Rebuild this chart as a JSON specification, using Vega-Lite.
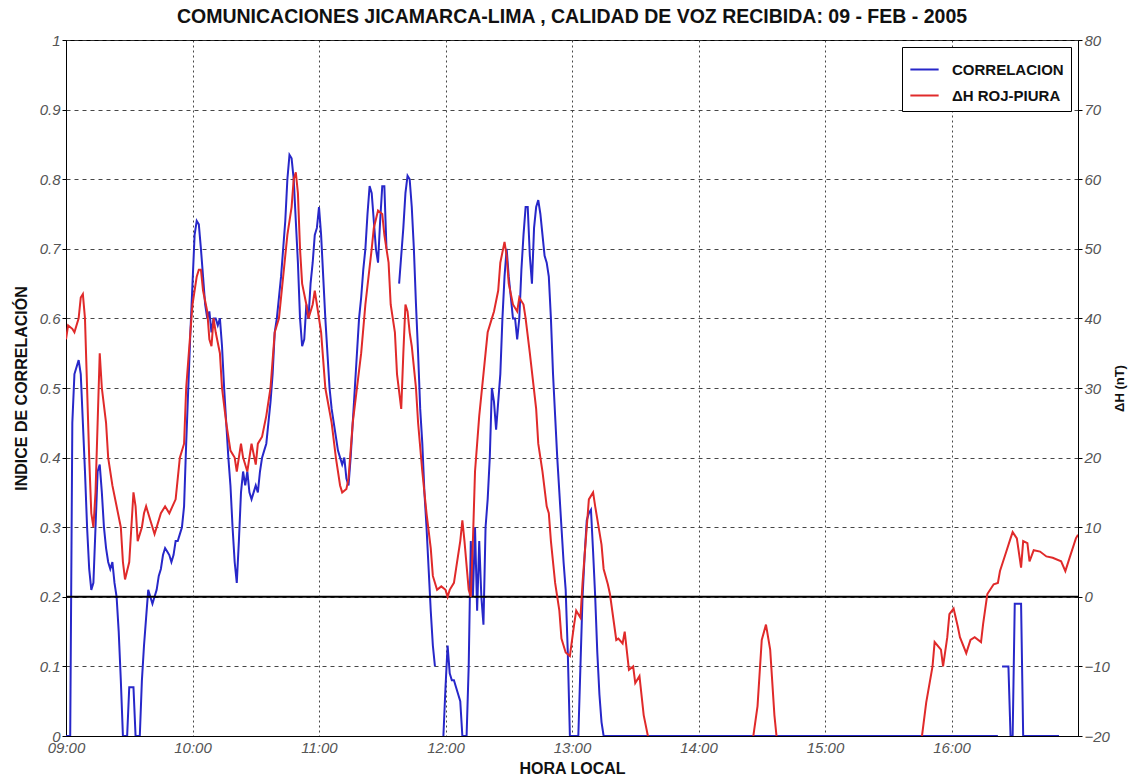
{
  "$schema": "https://vega.github.io/schema/vega-lite/v6.json",
  "width": 1012,
  "height": 696,
  "autosize": {"type": "none"},
  "padding": {"left": 66, "top": 40, "right": 53, "bottom": 46},
  "background": "white",
  "title": {
    "text": "COMUNICACIONES JICAMARCA-LIMA , CALIDAD DE VOZ RECIBIDA: 09 - FEB - 2005",
    "fontSize": 19.5,
    "fontWeight": "bold",
    "font": "Liberation Sans",
    "color": "#111",
    "anchor": "middle",
    "offset": 6
  },
  "layer": [
    {
      "layer": [
        {
          "data": {
            "format": {"parse": {"hora": "date:'%H:%M'"}},
            "values": [
              {"hora":"09:00","corr":0},{"hora":"09:02","corr":0},{"hora":"09:03","corr":0.45},{"hora":"09:04","corr":0.52},{"hora":"09:06","corr":0.54},{"hora":"09:07","corr":0.52},{"hora":"09:08","corr":0.45},{"hora":"09:09","corr":0.38},{"hora":"09:10","corr":0.3},{"hora":"09:11","corr":0.24},{"hora":"09:12","corr":0.21},{"hora":"09:13","corr":0.22},{"hora":"09:14","corr":0.3},{"hora":"09:15","corr":0.38},{"hora":"09:16","corr":0.39},{"hora":"09:17","corr":0.35},{"hora":"09:18","corr":0.3},{"hora":"09:19","corr":0.27},{"hora":"09:20","corr":0.25},{"hora":"09:21","corr":0.24},{"hora":"09:22","corr":0.25},{"hora":"09:23","corr":0.22},{"hora":"09:24","corr":0.2},{"hora":"09:25","corr":0.15},{"hora":"09:26","corr":0.08},{"hora":"09:27","corr":0},{"hora":"09:29","corr":0},{"hora":"09:30","corr":0.07},{"hora":"09:32","corr":0.07},{"hora":"09:33","corr":0},{"hora":"09:35","corr":0},{"hora":"09:36","corr":0.08},{"hora":"09:37","corr":0.13},{"hora":"09:38","corr":0.17},{"hora":"09:39","corr":0.21},{"hora":"09:40","corr":0.2},{"hora":"09:41","corr":0.19},{"hora":"09:42","corr":0.2},{"hora":"09:43","corr":0.21},{"hora":"09:44","corr":0.23},{"hora":"09:45","corr":0.24},{"hora":"09:46","corr":0.26},{"hora":"09:47","corr":0.27},{"hora":"09:48","corr":0.265},{"hora":"09:49","corr":0.26},{"hora":"09:50","corr":0.25},{"hora":"09:51","corr":0.26},{"hora":"09:52","corr":0.28},{"hora":"09:53","corr":0.28},{"hora":"09:54","corr":0.29},{"hora":"09:55","corr":0.3},{"hora":"09:56","corr":0.33},{"hora":"09:57","corr":0.42},{"hora":"09:58","corr":0.5},{"hora":"09:59","corr":0.58},
              {"hora":"10:00","corr":0.65},{"hora":"10:01","corr":0.72},{"hora":"10:02","corr":0.74},{"hora":"10:03","corr":0.735},{"hora":"10:04","corr":0.7},{"hora":"10:05","corr":0.66},{"hora":"10:06","corr":0.62},{"hora":"10:07","corr":0.6},{"hora":"10:08","corr":0.61},{"hora":"10:09","corr":0.58},{"hora":"10:10","corr":0.6},{"hora":"10:11","corr":0.6},{"hora":"10:12","corr":0.59},{"hora":"10:13","corr":0.6},{"hora":"10:14","corr":0.56},{"hora":"10:15","corr":0.5},{"hora":"10:16","corr":0.45},{"hora":"10:17","corr":0.4},{"hora":"10:18","corr":0.36},{"hora":"10:19","corr":0.3},{"hora":"10:20","corr":0.25},{"hora":"10:21","corr":0.22},{"hora":"10:22","corr":0.28},{"hora":"10:23","corr":0.35},{"hora":"10:24","corr":0.38},{"hora":"10:25","corr":0.36},{"hora":"10:26","corr":0.38},{"hora":"10:27","corr":0.35},{"hora":"10:28","corr":0.34},{"hora":"10:29","corr":0.35},{"hora":"10:30","corr":0.36},{"hora":"10:31","corr":0.35},{"hora":"10:32","corr":0.38},{"hora":"10:33","corr":0.4},{"hora":"10:34","corr":0.41},{"hora":"10:35","corr":0.42},{"hora":"10:36","corr":0.45},{"hora":"10:37","corr":0.48},{"hora":"10:38","corr":0.52},{"hora":"10:39","corr":0.58},{"hora":"10:40","corr":0.6},{"hora":"10:41","corr":0.63},{"hora":"10:42","corr":0.66},{"hora":"10:43","corr":0.7},{"hora":"10:44","corr":0.74},{"hora":"10:45","corr":0.8},{"hora":"10:46","corr":0.835},{"hora":"10:47","corr":0.83},{"hora":"10:48","corr":0.8},{"hora":"10:49","corr":0.74},{"hora":"10:50","corr":0.68},{"hora":"10:51","corr":0.6},{"hora":"10:52","corr":0.56},{"hora":"10:53","corr":0.57},{"hora":"10:54","corr":0.62},{"hora":"10:55","corr":0.6},{"hora":"10:56","corr":0.65},{"hora":"10:57","corr":0.68},{"hora":"10:58","corr":0.72},{"hora":"10:59","corr":0.73},
              {"hora":"11:00","corr":0.76},{"hora":"11:01","corr":0.72},{"hora":"11:02","corr":0.66},{"hora":"11:03","corr":0.6},{"hora":"11:04","corr":0.55},{"hora":"11:05","corr":0.5},{"hora":"11:06","corr":0.47},{"hora":"11:07","corr":0.45},{"hora":"11:08","corr":0.43},{"hora":"11:09","corr":0.41},{"hora":"11:10","corr":0.4},{"hora":"11:11","corr":0.39},{"hora":"11:12","corr":0.4},{"hora":"11:13","corr":0.37},{"hora":"11:14","corr":0.36},{"hora":"11:15","corr":0.4},{"hora":"11:16","corr":0.45},{"hora":"11:17","corr":0.5},{"hora":"11:18","corr":0.55},{"hora":"11:19","corr":0.6},{"hora":"11:20","corr":0.63},{"hora":"11:21","corr":0.67},{"hora":"11:22","corr":0.7},{"hora":"11:23","corr":0.75},{"hora":"11:24","corr":0.79},{"hora":"11:25","corr":0.78},{"hora":"11:26","corr":0.74},{"hora":"11:27","corr":0.7},{"hora":"11:28","corr":0.68},{"hora":"11:29","corr":0.74},{"hora":"11:30","corr":0.79},{"hora":"11:31","corr":0.79},{"hora":"11:32","corr":0.7},{"hora":"11:33","corr":null},{"hora":"11:38","corr":0.65},{"hora":"11:39","corr":0.69},{"hora":"11:40","corr":0.73},{"hora":"11:41","corr":0.78},{"hora":"11:42","corr":0.805},{"hora":"11:43","corr":0.8},{"hora":"11:44","corr":0.76},{"hora":"11:45","corr":0.7},{"hora":"11:46","corr":0.62},{"hora":"11:47","corr":0.55},{"hora":"11:48","corr":0.47},{"hora":"11:49","corr":0.42},{"hora":"11:50","corr":0.35},{"hora":"11:51","corr":0.3},{"hora":"11:52","corr":0.24},{"hora":"11:53","corr":0.18},{"hora":"11:54","corr":0.13},{"hora":"11:55","corr":0.1},{"hora":"11:56","corr":null},{"hora":"11:59","corr":0},
              {"hora":"12:00","corr":0.07},{"hora":"12:01","corr":0.13},{"hora":"12:02","corr":0.09},{"hora":"12:03","corr":0.08},{"hora":"12:04","corr":0.08},{"hora":"12:05","corr":0.07},{"hora":"12:06","corr":0.06},{"hora":"12:07","corr":0.05},{"hora":"12:08","corr":0},{"hora":"12:10","corr":0},{"hora":"12:11","corr":0.1},{"hora":"12:12","corr":0.28},{"hora":"12:13","corr":0.2},{"hora":"12:14","corr":0.3},{"hora":"12:15","corr":0.18},{"hora":"12:16","corr":0.28},{"hora":"12:17","corr":0.2},{"hora":"12:18","corr":0.16},{"hora":"12:19","corr":0.3},{"hora":"12:20","corr":0.34},{"hora":"12:21","corr":0.4},{"hora":"12:22","corr":0.5},{"hora":"12:23","corr":0.48},{"hora":"12:24","corr":0.44},{"hora":"12:25","corr":0.48},{"hora":"12:26","corr":0.52},{"hora":"12:27","corr":0.6},{"hora":"12:28","corr":0.66},{"hora":"12:29","corr":0.7},{"hora":"12:30","corr":0.66},{"hora":"12:31","corr":0.63},{"hora":"12:32","corr":0.6},{"hora":"12:33","corr":0.6},{"hora":"12:34","corr":0.57},{"hora":"12:35","corr":0.6},{"hora":"12:36","corr":0.67},{"hora":"12:37","corr":0.72},{"hora":"12:38","corr":0.76},{"hora":"12:39","corr":0.76},{"hora":"12:40","corr":0.69},{"hora":"12:41","corr":0.65},{"hora":"12:42","corr":0.73},{"hora":"12:43","corr":0.76},{"hora":"12:44","corr":0.77},{"hora":"12:45","corr":0.75},{"hora":"12:46","corr":0.72},{"hora":"12:47","corr":0.69},{"hora":"12:48","corr":0.68},{"hora":"12:49","corr":0.66},{"hora":"12:50","corr":0.6},{"hora":"12:51","corr":0.52},{"hora":"12:52","corr":0.46},{"hora":"12:53","corr":0.4},{"hora":"12:54","corr":0.35},{"hora":"12:55","corr":0.3},{"hora":"12:56","corr":0.25},{"hora":"12:57","corr":0.21},{"hora":"12:58","corr":0.12},{"hora":"12:59","corr":0},
              {"hora":"13:03","corr":0},{"hora":"13:04","corr":0.1},{"hora":"13:05","corr":0.2},{"hora":"13:06","corr":0.26},{"hora":"13:07","corr":0.31},{"hora":"13:08","corr":0.32},{"hora":"13:09","corr":0.325},{"hora":"13:10","corr":0.265},{"hora":"13:11","corr":0.2},{"hora":"13:12","corr":0.12},{"hora":"13:13","corr":0.06},{"hora":"13:14","corr":0.02},{"hora":"13:15","corr":0},
              {"hora":"14:00","corr":0},{"hora":"15:00","corr":0},{"hora":"16:00","corr":0},{"hora":"16:22","corr":0},{"hora":"16:23","corr":null},{"hora":"16:24","corr":0.1},{"hora":"16:27","corr":0.1},{"hora":"16:28","corr":0},{"hora":"16:29","corr":0},{"hora":"16:30","corr":0.19},{"hora":"16:33","corr":0.19},{"hora":"16:34","corr":0},{"hora":"16:51","corr":0}
            ]
          },
          "mark": {"type": "line", "strokeWidth": 2, "invalid": "break-paths-show-domains", "clip": true},
          "encoding": {
            "x": {
              "field": "hora",
              "type": "temporal",
              "scale": {"domain": [{"year": 1900, "month": 1, "date": 1, "hours": 9}, {"year": 1900, "month": 1, "date": 1, "hours": 17}]},
              "axis": {
                "title": "HORA LOCAL",
                "format": "%H:%M",
                "values": [
                  {"year": 1900, "month": 1, "date": 1, "hours": 9},
                  {"year": 1900, "month": 1, "date": 1, "hours": 10},
                  {"year": 1900, "month": 1, "date": 1, "hours": 11},
                  {"year": 1900, "month": 1, "date": 1, "hours": 12},
                  {"year": 1900, "month": 1, "date": 1, "hours": 13},
                  {"year": 1900, "month": 1, "date": 1, "hours": 14},
                  {"year": 1900, "month": 1, "date": 1, "hours": 15},
                  {"year": 1900, "month": 1, "date": 1, "hours": 16}
                ],
                "grid": true,
                "gridDash": [2, 3],
                "gridColor": "#333",
                "gridOpacity": 0.9,
                "ticks": false,
                "labelPadding": 4,
                "labelFlush": false,
                "labelOverlap": false,
                "titlePadding": 5
              }
            },
            "y": {
              "field": "corr",
              "type": "quantitative",
              "scale": {"domain": [0, 1], "nice": false, "zero": false},
              "axis": {
                "title": "INDICE DE CORRELACIÓN",
                "orient": "left",
                "values": [0, 0.1, 0.2, 0.3, 0.4, 0.5, 0.6, 0.7, 0.8, 0.9, 1],
                "format": "~g",
                "grid": true,
                "gridDash": [4, 4],
                "gridColor": "#333",
                "gridOpacity": 0.9,
                "tickSize": 4,
                "labelPadding": 2,
                "titlePadding": 10
              }
            },
            "color": {
              "datum": "CORRELACION",
              "type": "nominal",
              "scale": {"domain": ["CORRELACION", "ΔH ROJ-PIURA"], "range": ["#2727c9", "#e02a2a"]},
              "legend": {
                "title": null,
                "orient": "top-right",
                "offset": 7,
                "fillColor": "white",
                "strokeColor": "black",
                "padding": 7,
                "labelFont": "Liberation Sans",
                "labelFontWeight": "bold",
                "labelFontSize": 15,
                "labelColor": "#111",
                "labelOffset": 12,
                "rowPadding": 2,
                "symbolType": "stroke",
                "symbolSize": 800,
                "symbolStrokeWidth": 2
              }
            }
          }
        },
        {
          "data": {"values": [{"ref": 0.2}]},
          "mark": {"type": "rule", "color": "black", "strokeWidth": 2},
          "encoding": {
            "y": {"field": "ref", "type": "quantitative"}
          }
        }
      ]
    },
    {
      "data": {
        "format": {"parse": {"hora": "date:'%H:%M'"}},
        "values": [
          {"hora":"09:00","dh":37},{"hora":"09:01","dh":39},{"hora":"09:03","dh":38.5},{"hora":"09:04","dh":38},{"hora":"09:06","dh":40},{"hora":"09:07","dh":43},{"hora":"09:08","dh":43.5},{"hora":"09:09","dh":40},{"hora":"09:10","dh":30},{"hora":"09:11","dh":20},{"hora":"09:12","dh":12},{"hora":"09:13","dh":10},{"hora":"09:14","dh":15},{"hora":"09:15","dh":25},{"hora":"09:16","dh":35},{"hora":"09:17","dh":30},{"hora":"09:19","dh":25},{"hora":"09:20","dh":20},{"hora":"09:22","dh":16},{"hora":"09:24","dh":13},{"hora":"09:26","dh":10},{"hora":"09:27","dh":5},{"hora":"09:28","dh":2.5},{"hora":"09:30","dh":5},{"hora":"09:31","dh":10},{"hora":"09:32","dh":15},{"hora":"09:33","dh":13},{"hora":"09:34","dh":8},{"hora":"09:36","dh":10},{"hora":"09:37","dh":12},{"hora":"09:38","dh":13},{"hora":"09:40","dh":11},{"hora":"09:42","dh":9},{"hora":"09:43","dh":10},{"hora":"09:45","dh":12},{"hora":"09:47","dh":13},{"hora":"09:49","dh":12},{"hora":"09:52","dh":14},{"hora":"09:54","dh":20},{"hora":"09:56","dh":22},{"hora":"09:57","dh":30},{"hora":"09:59","dh":38},
          {"hora":"10:00","dh":42},{"hora":"10:02","dh":46},{"hora":"10:03","dh":47},{"hora":"10:04","dh":47},{"hora":"10:05","dh":44},{"hora":"10:07","dh":41},{"hora":"10:08","dh":37},{"hora":"10:09","dh":36},{"hora":"10:10","dh":40},{"hora":"10:11","dh":38},{"hora":"10:13","dh":35},{"hora":"10:14","dh":30},{"hora":"10:16","dh":25},{"hora":"10:18","dh":21},{"hora":"10:20","dh":20},{"hora":"10:21","dh":18},{"hora":"10:23","dh":22},{"hora":"10:24","dh":20},{"hora":"10:26","dh":18},{"hora":"10:28","dh":22},{"hora":"10:30","dh":19},{"hora":"10:31","dh":22},{"hora":"10:33","dh":23},{"hora":"10:35","dh":26},{"hora":"10:37","dh":30},{"hora":"10:39","dh":38},{"hora":"10:41","dh":40},{"hora":"10:43","dh":46},{"hora":"10:45","dh":52},{"hora":"10:47","dh":56},{"hora":"10:48","dh":60},{"hora":"10:49","dh":61},{"hora":"10:50","dh":58},{"hora":"10:51","dh":50},{"hora":"10:52","dh":45},{"hora":"10:54","dh":42},{"hora":"10:55","dh":40},{"hora":"10:57","dh":42},{"hora":"10:58","dh":44},
          {"hora":"11:00","dh":40},{"hora":"11:01","dh":38},{"hora":"11:03","dh":30},{"hora":"11:06","dh":25},{"hora":"11:08","dh":20},{"hora":"11:10","dh":16},{"hora":"11:11","dh":15},{"hora":"11:13","dh":15.5},{"hora":"11:14","dh":17},{"hora":"11:16","dh":25},{"hora":"11:18","dh":30},{"hora":"11:20","dh":35},{"hora":"11:22","dh":42},{"hora":"11:25","dh":50},{"hora":"11:26","dh":53},{"hora":"11:28","dh":55.5},{"hora":"11:30","dh":55},{"hora":"11:31","dh":52},{"hora":"11:33","dh":48},{"hora":"11:34","dh":42},{"hora":"11:36","dh":38},{"hora":"11:37","dh":32},{"hora":"11:39","dh":27},{"hora":"11:40","dh":35},{"hora":"11:41","dh":42},{"hora":"11:42","dh":41},{"hora":"11:43","dh":38},{"hora":"11:44","dh":36},{"hora":"11:46","dh":30},{"hora":"11:47","dh":25},{"hora":"11:49","dh":18},{"hora":"11:51","dh":12},{"hora":"11:53","dh":7},{"hora":"11:54","dh":3},{"hora":"11:56","dh":1},{"hora":"11:58","dh":1.5},
          {"hora":"12:00","dh":1},{"hora":"12:01","dh":0},{"hora":"12:02","dh":1},{"hora":"12:04","dh":2},{"hora":"12:05","dh":4},{"hora":"12:07","dh":8},{"hora":"12:08","dh":11},{"hora":"12:09","dh":8},{"hora":"12:11","dh":1},{"hora":"12:12","dh":0},{"hora":"12:13","dh":8},{"hora":"12:14","dh":18},{"hora":"12:16","dh":26},{"hora":"12:18","dh":32},{"hora":"12:19","dh":35},{"hora":"12:20","dh":38},{"hora":"12:22","dh":40},{"hora":"12:23","dh":41},{"hora":"12:25","dh":44},{"hora":"12:26","dh":48},{"hora":"12:28","dh":51},{"hora":"12:29","dh":49},{"hora":"12:30","dh":45},{"hora":"12:32","dh":42},{"hora":"12:34","dh":41},{"hora":"12:35","dh":43},{"hora":"12:37","dh":42},{"hora":"12:38","dh":40},{"hora":"12:40","dh":35},{"hora":"12:43","dh":27},{"hora":"12:44","dh":22},{"hora":"12:46","dh":18},{"hora":"12:48","dh":13},{"hora":"12:49","dh":12},{"hora":"12:50","dh":8},{"hora":"12:52","dh":2},{"hora":"12:54","dh":-2},{"hora":"12:55","dh":-6},{"hora":"12:57","dh":-8},{"hora":"12:59","dh":-8.5},
          {"hora":"13:01","dh":-4},{"hora":"13:02","dh":-2},{"hora":"13:04","dh":-3},{"hora":"13:05","dh":2},{"hora":"13:07","dh":10},{"hora":"13:08","dh":14},{"hora":"13:10","dh":15},{"hora":"13:11","dh":13},{"hora":"13:14","dh":7.5},{"hora":"13:15","dh":4},{"hora":"13:17","dh":1.8},{"hora":"13:18","dh":0.4},{"hora":"13:21","dh":-6.2},{"hora":"13:22","dh":-6},{"hora":"13:24","dh":-6.7},{"hora":"13:25","dh":-5},{"hora":"13:27","dh":-10.5},{"hora":"13:29","dh":-10},{"hora":"13:30","dh":-12.4},{"hora":"13:32","dh":-11.4},{"hora":"13:34","dh":-17},{"hora":"13:36","dh":-20},{"hora":"13:38","dh":-24},
          {"hora":"14:25","dh":-24},{"hora":"14:26","dh":-20},{"hora":"14:28","dh":-15.7},{"hora":"14:30","dh":-6.2},{"hora":"14:32","dh":-4},{"hora":"14:34","dh":-7.6},{"hora":"14:36","dh":-17},{"hora":"14:37","dh":-20},{"hora":"14:38","dh":-24},
          {"hora":"15:44","dh":-24},{"hora":"15:46","dh":-20},{"hora":"15:48","dh":-15.2},{"hora":"15:51","dh":-10},{"hora":"15:52","dh":-6.5},{"hora":"15:55","dh":-7.6},{"hora":"15:56","dh":-10},{"hora":"15:58","dh":-5.8},{"hora":"15:59","dh":-2.5},
          {"hora":"16:01","dh":-1.7},{"hora":"16:03","dh":-4.3},{"hora":"16:04","dh":-5.8},{"hora":"16:07","dh":-8.1},{"hora":"16:09","dh":-6.2},{"hora":"16:11","dh":-5.8},{"hora":"16:14","dh":-6.5},{"hora":"16:15","dh":-3.9},{"hora":"16:17","dh":0.4},{"hora":"16:20","dh":1.8},{"hora":"16:22","dh":2},{"hora":"16:23","dh":3.7},{"hora":"16:26","dh":6.5},{"hora":"16:28","dh":8.4},{"hora":"16:29","dh":9.3},{"hora":"16:31","dh":8.4},{"hora":"16:33","dh":4.2},{"hora":"16:34","dh":8},{"hora":"16:36","dh":7.7},{"hora":"16:37","dh":5.1},{"hora":"16:39","dh":6.7},{"hora":"16:42","dh":6.5},{"hora":"16:45","dh":5.8},{"hora":"16:48","dh":5.6},{"hora":"16:52","dh":5.1},{"hora":"16:54","dh":3.7},{"hora":"16:56","dh":5.6},{"hora":"16:59","dh":8.4},{"hora":"17:00","dh":8.9}
        ]
      },
      "mark": {"type": "line", "strokeWidth": 2, "clip": true},
      "encoding": {
        "x": {"field": "hora", "type": "temporal"},
        "y": {
          "field": "dh",
          "type": "quantitative",
          "scale": {"domain": [-20, 80], "nice": false, "zero": false},
          "axis": {
            "title": "ΔH (nT)",
            "orient": "right",
            "values": [-20, -10, 0, 10, 20, 30, 40, 50, 60, 70, 80],
            "format": "d",
            "grid": false,
            "tickSize": 4,
            "labelPadding": 2,
            "titleFontSize": 13,
            "titleAngle": 270,
            "titleBaseline": "bottom",
            "titlePadding": 17
          }
        },
        "color": {"datum": "ΔH ROJ-PIURA", "type": "nominal"}
      }
    }
  ],
  "resolve": {"scale": {"y": "independent"}},
  "config": {
    "font": "Liberation Sans",
    "view": {"stroke": "black", "strokeWidth": 1},
    "axis": {
      "domainColor": "black",
      "tickColor": "black",
      "labelFont": "Liberation Sans",
      "labelFontStyle": "italic",
      "labelColor": "#555",
      "labelFontSize": 15,
      "titleFont": "Liberation Sans",
      "titleFontWeight": "bold",
      "titleFontSize": 16,
      "titleColor": "#111"
    }
  }
}
